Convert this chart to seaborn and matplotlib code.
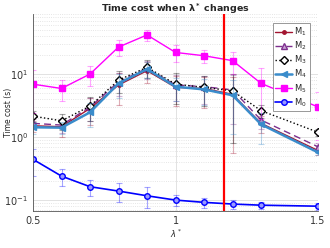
import matplotlib
matplotlib.use("Agg")
import matplotlib.pyplot as plt
import pandas as pd
import seaborn as sns

# lambda* values (no run at 1.4)
lam = [0.5, 0.6, 0.7, 0.8, 0.9, 1.0, 1.1, 1.2, 1.3, 1.5]

m1 = [1.51, 1.46, 2.85, 6.7, 11.3, 6.15, 5.9, 4.76, 1.65, 0.61]
m2 = [1.65, 1.55, 3.0, 7.5, 12.3, 6.7, 6.3, 5.6, 1.86, 0.70]
m3 = [2.15, 1.81, 3.1, 8.0, 12.8, 6.9, 6.15, 5.4, 2.62, 1.19]
m4 = [1.43, 1.41, 2.47, 7.1, 12.0, 6.3, 5.7, 4.6, 1.59, 0.57]
m5 = [6.9, 5.9, 10.0, 26.8, 41.7, 22.0, 19.5, 16.3, 7.1, 3.0]
m0 = [0.443, 0.24, 0.163, 0.139, 0.117, 0.100, 0.092, 0.0865, 0.083, 0.080]

m1_err = [0.3, 0.45, 1.3, 3.5, 4.0, 3.0, 3.0, 4.2, 0.5, 0.1]
m2_err = [0.3, 0.4, 1.2, 3.0, 4.0, 3.0, 3.0, 4.0, 0.5, 0.1]
m3_err = [0.4, 0.5, 1.3, 3.0, 4.0, 3.5, 3.0, 4.6, 0.6, 0.15]
m4_err = [0.3, 0.3, 1.0, 3.0, 3.5, 2.5, 2.5, 3.5, 0.8, 0.05]
m5_err = [4.5, 2.1, 3.6, 7.7, 7.7, 6.4, 4.7, 6.3, 5.2, 2.1]
m0_err = [0.2, 0.07, 0.048, 0.045, 0.042, 0.02, 0.016, 0.015, 0.01, 0.01]

change_point = 1.17

series = [
    ("$\\mathrm{M}_1$", m1, m1_err, "#A2142F", "-", ".", 1.0, "#A2142F"),
    ("$\\mathrm{M}_2$", m2, m2_err, "#7E2F8E", (0, (5, 3)), "^", 1.0, "#C9A6D6"),
    ("$\\mathrm{M}_3$", m3, m3_err, "black", ":", "D", 1.0, "white"),
    ("$\\mathrm{M}_4$", m4, m4_err, "#3A8CCB", "-", "<", 1.8, "#3A8CCB"),
    ("$\\mathrm{M}_5$", m5, m5_err, "#FF00FF", "-", "s", 1.0, "#FF00FF"),
    ("$\\mathrm{M}_0$", m0, m0_err, "#0000FF", "-", "o", 1.2, "#9999FF"),
]

sns.set_style("white")
plt.rcParams["font.family"] = ["DejaVu Sans"]

fig = plt.figure(figsize=(3.3, 2.48), dpi=100)
ax = fig.add_axes([0.1, 0.149, 0.864, 0.795])

for name, vals, errs, col, ls, mk, lw, face in series:
    df = pd.DataFrame({"lam": lam, "t": vals})
    ax.errorbar(lam, vals, yerr=errs, fmt="none", ecolor=col, alpha=0.35,
                elinewidth=0.8, capsize=2, capthick=0.8)
    sns.lineplot(data=df, x="lam", y="t", ax=ax, color=col, linestyle=ls,
                 linewidth=lw, marker=mk, markersize=4 if mk != "." else 5,
                 markerfacecolor=face, markeredgecolor=col,
                 markeredgewidth=1.0, label=name)

ax.axvline(change_point, color="red", linewidth=1.6, zorder=5)

ax.set_yscale("log")
ax.set_xlim(0.5, 1.5)
ax.set_ylim(0.067, 90)
ax.set_xticks([0.5, 1, 1.5])
ax.set_xticklabels(["0.5", "1", "1.5"])
ax.grid(True, which="major", color="#dddddd", linewidth=0.6)
ax.grid(True, which="minor", axis="y", color="#dddddd", linewidth=0.6,
        linestyle=":")
ax.tick_params(labelsize=7, length=2, direction="in", colors="#333333")
ax.tick_params(which="minor", length=1, direction="in")
for s in ["top", "right"]:
    ax.spines[s].set_visible(False)
for s in ["left", "bottom"]:
    ax.spines[s].set_color("#555555")
    ax.spines[s].set_linewidth(0.6)

ax.set_xlabel("$\\lambda^*$", fontsize=6, labelpad=1)
ax.set_ylabel("Time cost (s)", fontsize=5.5)
ax.yaxis.set_label_coords(-0.07, 0.5)
ax.set_title("Time cost when $\\mathbf{\\lambda^*}$ changes", fontsize=6.8,
             fontweight="bold", pad=1.5)

leg = ax.legend(loc="upper right", bbox_to_anchor=(0.985, 0.975), fontsize=6,
                handlelength=2.0, handletextpad=0.3, labelspacing=0.2,
                borderpad=0.3, frameon=True, fancybox=False, framealpha=1)
leg.get_frame().set_edgecolor("#888888")
leg.get_frame().set_linewidth(0.6)

fig.savefig("out.png", dpi=100)
